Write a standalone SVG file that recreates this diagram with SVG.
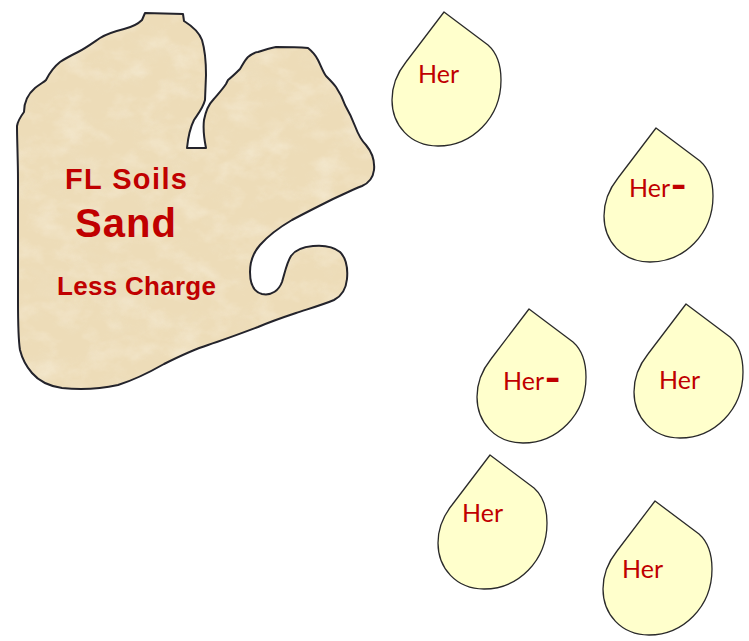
<svg xmlns="http://www.w3.org/2000/svg" width="749" height="641" viewBox="0 0 749 641">
  <style>
    .soil { fill: #eddcb8; stroke: none; }
    .soil-edge { fill: none; stroke: #23232b; stroke-width: 2; stroke-linejoin: round; }
    .soil-text { font-family: "Liberation Sans", Arial, sans-serif; font-weight: bold; fill: #c00000; }
    .drop { fill: #ffffcc; stroke: #2a2a2a; stroke-width: 1.3; stroke-linejoin: round; }
    .ion { font-family: Lato, "Liberation Sans", sans-serif; font-size: 25px; fill: #c00000; }
    .charge { fill: #c00000; stroke: #c00000; stroke-width: 2.2; font-weight: 900; font-size: 23px; }
  </style>
  <defs>
    <path id="drop-shape" d="M0,0 L44,33 C53,41 57,53 57,68 C57,106 28,134 -6,134 C-34,134 -52,113 -52,88 C-52,73 -46,60 -38,50 Z"/>
    <!-- darker sandy blotches -->
    <filter id="mottle-dark" x="0" y="0" width="100%" height="100%">
      <feTurbulence type="fractalNoise" baseFrequency="0.03 0.045" numOctaves="4" seed="7" result="noise"/>
      <feColorMatrix in="noise" type="matrix" values="0 0 0 0 0.86  0 0 0 0 0.77  0 0 0 0 0.58  1.8 0 0 0 -0.85" result="tint"/>
      <feComposite in="tint" in2="SourceGraphic" operator="in"/>
    </filter>
    <!-- pale highlights -->
    <filter id="mottle-light" x="0" y="0" width="100%" height="100%">
      <feTurbulence type="fractalNoise" baseFrequency="0.035 0.05" numOctaves="4" seed="21" result="noise"/>
      <feColorMatrix in="noise" type="matrix" values="0 0 0 0 0.97  0 0 0 0 0.93  0 0 0 0 0.83  1.8 0 0 0 -0.8" result="tint"/>
      <feComposite in="tint" in2="SourceGraphic" operator="in"/>
    </filter>
    <path id="soil-outline" d="M145,13 L183,14 L184,21 C192,26 199,32 202,40 C205,50 206,62 206,75 L205,100 C203,108 198,114 194,120 C190,128 188,138 187,148 L206,148 C204,138 203,128 204,120 C206,110 209,104 213,100 C218,94 222,90 226,84 L228,80 C233,76 237,72 240,69 C243,64 245,60 248,57 C252,54 255,52 258,52 C264,50 270,48 276,47 C286,47 297,47 308,48 C313,52 316,56 318,60 C321,66 323,72 326,76 C330,80 333,83 336,87 C340,93 343,99 345,105 C349,112 352,118 355,126 C358,134 361,140 366,145 C371,151 375,160 374,170 C373,178 369,183 362,186 C352,190 344,194 333,199 C319,206 305,213 292,220 C280,227 268,236 260,245 C253,253 250,262 250,272 C250,284 254,292 262,294 C272,296 279,290 282,282 C285,272 287,262 291,256 C295,250 302,247 313,246 C324,245 334,247 340,252 C346,258 348,268 347,279 C346,289 342,296 334,300 C322,305 308,309 296,313 C284,317 272,321 258,327 C242,333 226,339 208,345 C192,350 178,357 164,364 C150,372 134,380 118,385 C100,389 80,390 62,388 C48,386 38,380 32,373 C26,366 22,358 20,350 C18,338 18,320 18,300 L18,180 C18,160 17,140 17,126 C18,120 21,116 24,112 C24,102 28,94 35,88 C40,84 44,82 46,80 C50,72 55,66 60,62 C66,58 72,55 78,52 C86,48 94,42 100,38 C108,33 116,31 124,29 C132,27 138,24 142,20 Z"/>
  </defs>

  <!-- sandy soil particle -->
  <g id="soil">
    <use href="#soil-outline" class="soil"/>
    <use href="#soil-outline" class="soil" filter="url(#mottle-dark)" opacity="0.4"/>
    <use href="#soil-outline" class="soil" filter="url(#mottle-light)" opacity="0.45"/>
    <use href="#soil-outline" class="soil-edge"/>
    <text class="soil-text" x="65" y="189" font-size="29" textLength="122" lengthAdjust="spacing">FL Soils</text>
    <text class="soil-text" x="75" y="237" font-size="40" textLength="101" lengthAdjust="spacing">Sand</text>
    <text class="soil-text" x="57" y="295" font-size="26" textLength="159" lengthAdjust="spacing">Less Charge</text>
  </g>

  <!-- herbicide droplets -->
  <g id="drop1">
    <use href="#drop-shape" class="drop" x="444" y="12"/>
    <text class="ion" x="418" y="83">Her</text>
  </g>
  <g id="drop2">
    <use href="#drop-shape" class="drop" x="656" y="128"/>
    <text class="ion" x="629" y="197">Her<tspan class="charge" dx="2" dy="-3">–</tspan></text>
  </g>
  <g id="drop3">
    <use href="#drop-shape" class="drop" x="529" y="309"/>
    <text class="ion" x="503" y="390">Her<tspan class="charge" dx="2" dy="-3">–</tspan></text>
  </g>
  <g id="drop4">
    <use href="#drop-shape" class="drop" x="686" y="304"/>
    <text class="ion" x="659" y="389">Her</text>
  </g>
  <g id="drop5">
    <use href="#drop-shape" class="drop" x="490" y="455"/>
    <text class="ion" x="462" y="522">Her</text>
  </g>
  <g id="drop6">
    <use href="#drop-shape" class="drop" x="655" y="501"/>
    <text class="ion" x="622" y="578">Her</text>
  </g>

  <g id="connectors"/>
</svg>
